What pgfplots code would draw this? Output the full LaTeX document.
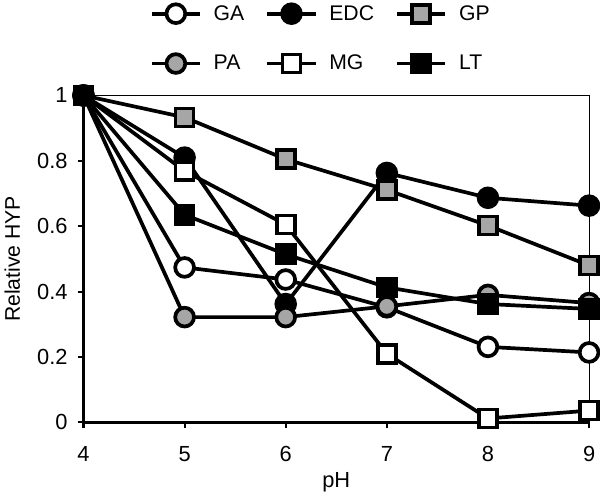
\documentclass[border=0pt]{standalone}
\usepackage{fontspec}
\setmainfont{Liberation Sans}
\usepackage{pgfplots}
\pgfplotsset{compat=1.18}
\begin{document}
\begin{tikzpicture}
\begin{axis}[
  width=382pt, height=247pt, scale only axis,
  xmin=4, xmax=9, ymin=0, ymax=1,
  xtick={4,5,6,7,8,9},
  xticklabels={4,5,6,7,8,9},
  ytick={0,0.2,0.4,0.6,0.8,1},
  yticklabels={0,0.2,0.4,0.6,0.8,1},
  tick align=outside, tick pos=left,
  major tick length=4.5pt,
  every tick/.style={line width=1.6pt, black},
  axis line style={line width=0.8pt},
  /pgf/number format/assume math mode=true,
  xticklabel style={font=\fontsize{16.5}{18}\selectfont, yshift=-10pt},
  yticklabel style={font=\fontsize{16.5}{18}\selectfont, xshift=-4pt},
  xlabel={pH}, ylabel={Relative HYP},
  xlabel style={font=\fontsize{16.5}{18}\selectfont, at={(axis description cs:0.5,-0.182)}, anchor=center},
  ylabel style={font=\fontsize{16}{18}\selectfont, at={(axis description cs:-0.141,0.5)}, anchor=center},
  clip=false,
  legend columns=3,
  legend cell align=left,
  legend style={draw=none, fill=none, at={(0.47,1.055)}, anchor=south,
    font=\fontsize{16}{18}\selectfont,
    /tikz/every even column/.append style={column sep=14pt},
    /tikz/every odd column/.append style={column sep=7pt},
    row sep=21pt},
  legend image code/.code={
    \draw[mark repeat=2,mark phase=2] plot coordinates {(0cm,0cm)(0.64cm,0cm)(1.28cm,0cm)};},
  every axis plot/.append style={line width=2.8pt, mark size=7.1pt,
     mark options={line width=1.2pt, draw=black}},
]
\path (axis description cs:-0.157,-0.2097) rectangle (axis description cs:1.0216,1.2796);
\draw[line width=2.2pt] (rel axis cs:0,1) -- (rel axis cs:0,0) -- (rel axis cs:1,0);
\addplot[black, mark=*, mark options={fill=white}] coordinates {(4,1)(5,0.474)(6,0.437)(7,0.352)(8,0.231)(9,0.214)};
\addlegendentry{GA}
\addplot[black, mark=*, mark options={fill=black}] coordinates {(4,1)(5,0.81)(6,0.362)(7,0.763)(8,0.687)(9,0.663)};
\addlegendentry{EDC}
\addplot[black, mark=square*, mark size=6.8pt, mark options={fill=gray!70}] coordinates {(4,1)(5,0.933)(6,0.805)(7,0.711)(8,0.602)(9,0.48)};
\addlegendentry{GP}
\addplot[black, mark=*, mark options={fill=gray!70}] coordinates {(4,1)(5,0.322)(6,0.322)(7,0.355)(8,0.39)(9,0.365)};
\addlegendentry{PA}
\addplot[black, mark=square*, mark size=6.8pt, mark options={fill=white}] coordinates {(4,1)(5,0.769)(6,0.605)(7,0.21)(8,0.012)(9,0.036)};
\addlegendentry{MG}
\addplot[black, mark=square*, mark size=6.8pt, mark options={fill=black}] coordinates {(4,1)(5,0.635)(6,0.514)(7,0.413)(8,0.362)(9,0.347)};
\addlegendentry{LT}
\end{axis}
\end{tikzpicture}
\end{document}
